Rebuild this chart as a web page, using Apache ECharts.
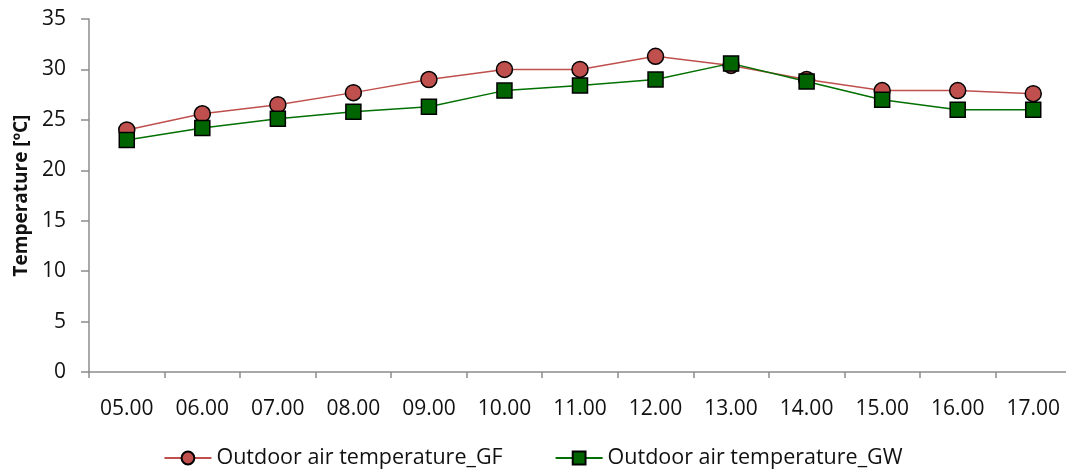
<!DOCTYPE html>
<html>
<head>
<meta charset="utf-8">
<script src="https://cdn.jsdelivr.net/npm/echarts@6/dist/echarts.min.js"></script>
<style>html,body{margin:0;padding:0;background:#fff}#c{width:1066px;height:470px}</style>
</head>
<body>
<div id="c"></div>
<script>
const categories = ['05.00','06.00','07.00','08.00','09.00','10.00','11.00','12.00','13.00','14.00','15.00','16.00','17.00'];
const gfValues = [24.0, 25.6, 26.5, 27.7, 29.0, 30.0, 30.0, 31.3, 30.4, 29.0, 27.9, 27.9, 27.6];
const gwValues = [23.0, 24.2, 25.1, 25.8, 26.3, 27.9, 28.4, 29.0, 30.6, 28.8, 27.0, 26.0, 26.0];
const gfName = 'Outdoor air temperature_GF';
const gwName = 'Outdoor air temperature_GW';
const yTitle = 'Temperature [ºC]';

const font = '"Open Sans", sans-serif';
const chart = echarts.init(document.getElementById('c'));
chart.setOption({
  animation: false,
  textStyle: { fontFamily: font },
  grid: { left: 89, top: 19, width: 982, height: 353, containLabel: false, outerBoundsMode: 'none' },
  legend: {
    bottom: -4, left: 'center', itemGap: 52, itemWidth: 47, itemHeight: 16,
    textStyle: { fontSize: 21.5, color: '#111', fontFamily: font },
    data: [gfName, gwName]
  },
  xAxis: {
    type: 'category', data: categories, boundaryGap: true,
    axisLine: { lineStyle: { color: '#8c8c8c', width: 1.5 } },
    axisTick: { show: true, length: 6, lineStyle: { color: '#8c8c8c', width: 1.5 } },
    axisLabel: { fontSize: 21, color: '#111', margin: 27, fontFamily: font },
    splitLine: { show: false }
  },
  yAxis: {
    type: 'value', min: 0, max: 35, interval: 5,
    name: yTitle, nameLocation: 'middle', nameGap: 58, nameRotate: 90,
    nameTextStyle: { fontSize: 19, fontWeight: 'bold', color: '#111', fontFamily: font },
    axisLine: { show: true, lineStyle: { color: '#8c8c8c', width: 1.5 } },
    axisTick: { show: true, length: 8, lineStyle: { color: '#8c8c8c', width: 1.5 } },
    axisLabel: { fontSize: 21, color: '#111', margin: 23, fontFamily: font },
    splitLine: { show: false }
  },
  series: [
    {
      name: gfName, type: 'line', data: gfValues,
      symbol: 'circle', symbolSize: 16,
      lineStyle: { color: '#C0504D', width: 1.5 },
      itemStyle: { color: '#C0504D', borderColor: '#000', borderWidth: 1.5 }
    },
    {
      name: gwName, type: 'line', data: gwValues,
      symbol: 'rect', symbolSize: 15,
      lineStyle: { color: '#007000', width: 1.5 },
      itemStyle: { color: '#006400', borderColor: '#000', borderWidth: 1.5 }
    }
  ]
});
</script>
</body>
</html>
